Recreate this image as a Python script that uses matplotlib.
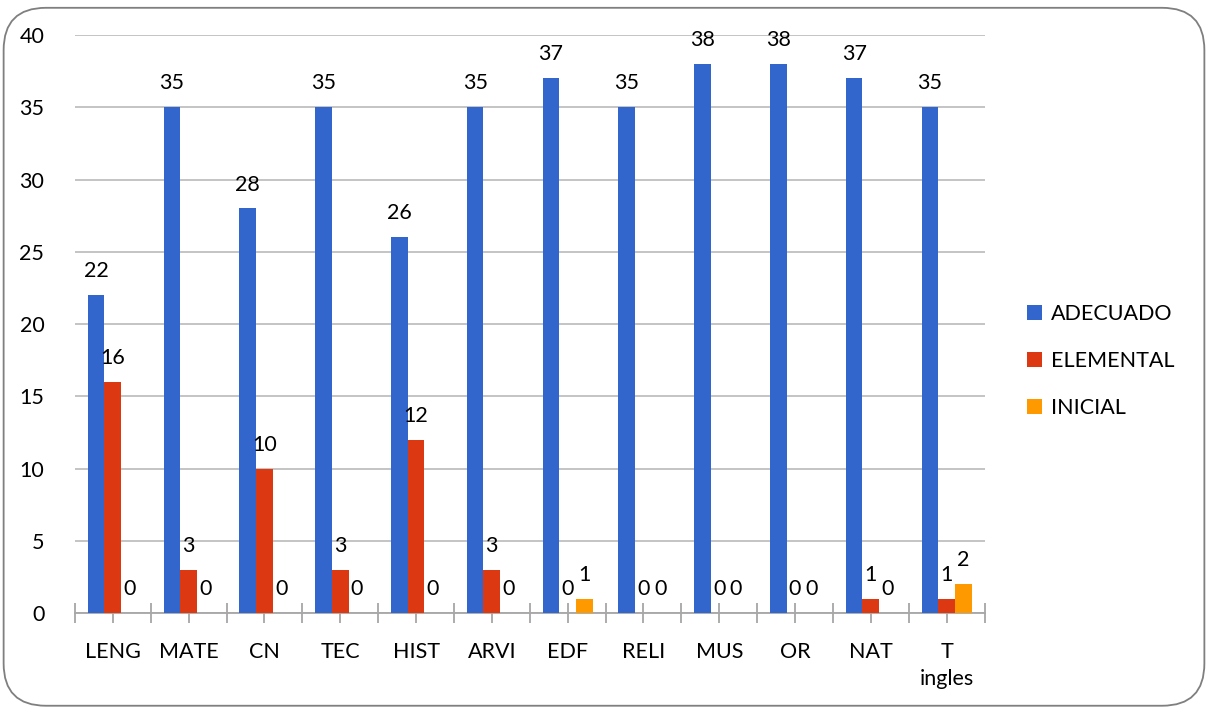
import numpy as np
import matplotlib
matplotlib.use('Agg')
import matplotlib.pyplot as plt
from matplotlib.patches import FancyBboxPatch

# data
materias = ['LENG', 'MATE', 'CN', 'TEC', 'HIST', 'ARVI', 'EDF', 'RELI', 'MUS', 'OR', 'NAT', 'T\ningles']
adecuado = [22, 35, 28, 35, 26, 35, 37, 35, 38, 38, 37, 35]
elemental = [16, 3, 10, 3, 12, 3, 0, 0, 0, 0, 1, 1]
inicial = [0, 0, 0, 0, 0, 0, 1, 0, 0, 0, 0, 2]

series = [('ADECUADO', adecuado, '#3366CC'),
          ('ELEMENTAL', elemental, '#DC3912'),
          ('INICIAL', inicial, '#FF9900')]

plt.rcParams['font.family'] = ['Lato', 'DejaVu Sans']

fig = plt.figure(figsize=(12.08, 7.10), dpi=100)
ax = fig.add_axes([0.062, 0.1366, 0.753, 0.8141])

x = np.arange(len(materias))
w = 0.22
for i, (name, vals, color) in enumerate(series):
    pos = x + (i - 1) * w
    ax.bar(pos, vals, width=w, color=color, label=name, zorder=3)
    for p, v in zip(pos, vals):
        ax.annotate(str(v), (p, v), xytext=(0, 10), textcoords='offset points',
                    ha='center', va='bottom', fontsize=15.5, color='black')

ax.set_xlim(-0.5, len(materias) - 0.5)
ax.set_ylim(0, 40)
ax.set_yticks(range(0, 41, 5))
ax.yaxis.grid(True, color='#BFBFBF', linewidth=1.3, zorder=0)
ax.set_axisbelow(True)

for s in ['top', 'right', 'left']:
    ax.spines[s].set_visible(False)
ax.spines['bottom'].set_color('#A6A6A6')
ax.spines['bottom'].set_linewidth(1.3)

ax.set_xticks(x)
ax.set_xticklabels(materias, fontsize=15.5, linespacing=1.4)
ax.set_xticks(np.arange(-0.5, len(materias)), minor=True)
ax.tick_params(axis='x', which='both', direction='inout', length=14, width=1.3,
               color='#A6A6A6', pad=14)
ax.tick_params(axis='y', length=0, labelsize=15.5, pad=22)

fig.legend(loc='center left', bbox_to_anchor=(0.834, 0.492), frameon=False,
           fontsize=15.5, handlelength=0.7, handleheight=0.7,
           handletextpad=0.4, labelspacing=1.25)

border = FancyBboxPatch((0.003, 0.006), 0.994, 0.983, boxstyle='round,pad=0,rounding_size=0.035',
                        transform=fig.transFigure, fill=False, edgecolor='#7F7F7F',
                        linewidth=1.3, mutation_aspect=1208 / 710)
fig.patches.append(border)

fig.savefig('out.png', dpi=100)
